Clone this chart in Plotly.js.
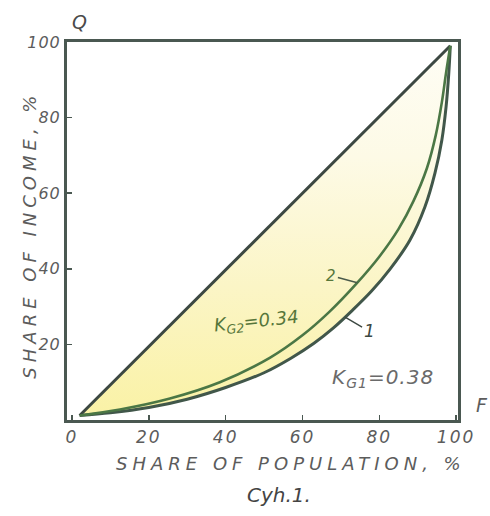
<!DOCTYPE html>
<html>
<head>
<meta charset="utf-8">
<script src="https://cdn.plot.ly/plotly-3.0.1.min.js"></script>
<style>
  html, body { margin: 0; padding: 0; background: #ffffff; }
  #chart { width: 490px; height: 516px; }
</style>
</head>
<body>
<div id="chart"></div>
<script>
// ---- data (share of population %, share of income %) ----
const equalityX = [2, 98.5];
const equalityY = [1.2, 99];

// curve 1 (K_G1 = 0.38)
const curve1X = [2, 10, 20, 30, 40, 50, 57, 63, 68, 73, 78, 82.8, 88, 91.9, 94.5, 96.3, 97.4, 98.1, 98.5];
const curve1Y = [1.2, 1.9, 3.3, 5.5, 8.6, 12.5, 16.35, 20.3, 24.3, 29.0, 34.1, 39.9, 47.6, 56.4, 65.3, 74.1, 82.9, 91.7, 99];

// curve 2 (K_G2 = 0.34)
const curve2X = [2, 12.5, 25.5, 38.5, 51.6, 60, 67, 74, 80, 85, 88.9, 92.4, 94.7, 96.3, 97.4, 98.5];
const curve2Y = [1.2, 2.8, 5.7, 10.0, 16.5, 22.4, 28.6, 36.0, 43.2, 50.5, 57.9, 66.6, 75.3, 84.1, 91.9, 99];

const xTickVals = [0, 20, 40, 60, 80, 100];
const xTickText = ['0', '20', '40', '60', '80', '100'];
const yTickVals = [20, 40, 60, 80, 100];
const yTickText = ['20', '40', '60', '80', '100'];

const xTitle = 'SHARE OF POPULATION, %';
const yTitle = 'SHARE OF INCOME, %';
const giniLabel1 = 'K<sub>G1</sub>=0.38';
const giniLabel2 = 'K<sub>G2</sub>=0.34';

// ---- styles ----
const FONT = 'DejaVu Sans, Liberation Sans, sans-serif';
const inkGray = '#4a5851';
const textGray = '#5c5c5c';

const traces = [
  // invisible equality line: the shaded area fills up to it
  {
    x: equalityX, y: equalityY, type: 'scatter', mode: 'lines',
    line: { width: 0, color: 'rgba(0,0,0,0)' },
    hoverinfo: 'skip', showlegend: false
  },
  // curve 1 with the yellow fill up to the equality line
  {
    x: curve1X, y: curve1Y, type: 'scatter', mode: 'lines',
    fill: 'tonexty',
    line: { color: '#41574a', width: 3, shape: 'spline', smoothing: 1 },
    fillgradient: {
      type: 'vertical',
      colorscale: [[0, '#faf2a6'], [0.35, '#fbf5c6'], [0.7, '#fdfae6'], [1, '#fefdf5']]
    },
    fillcolor: '#fbf5c6',
    showlegend: false, name: '1'
  },
  {
    x: equalityX, y: equalityY, type: 'scatter', mode: 'lines',
    line: { color: '#3c4842', width: 3 },
    showlegend: false, name: 'equality'
  },
  {
    x: curve2X, y: curve2Y, type: 'scatter', mode: 'lines',
    line: { color: '#4b7745', width: 2.6, shape: 'spline', smoothing: 1 },
    showlegend: false, name: '2'
  }
];

const xTickFont = { family: FONT, size: 17, color: textGray, style: 'italic' };
const yTickFont = { family: FONT, size: 16, color: textGray, style: 'italic' };
const titleFont = { family: FONT, size: 18, color: textGray, style: 'italic' };

const layout = {
  width: 490, height: 516,
  margin: { l: 67, r: 32, t: 42, b: 96, pad: 0 },
  paper_bgcolor: '#ffffff', plot_bgcolor: '#ffffff',
  showlegend: false,
  xaxis: {
    range: [-1.3, 100.5],
    tickmode: 'array', tickvals: xTickVals, ticktext: xTickText,
    ticks: 'inside', ticklen: 5, tickwidth: 1.5, tickcolor: inkGray,
    showline: true, mirror: true, linewidth: 3, linecolor: inkGray,
    showgrid: false, zeroline: false, fixedrange: true,
    tickfont: xTickFont
  },
  yaxis: {
    range: [0, 100],
    tickmode: 'array', tickvals: yTickVals, ticktext: yTickText,
    ticks: 'inside', ticklen: 5, tickwidth: 1.5, tickcolor: inkGray,
    showline: true, mirror: true, linewidth: 3, linecolor: inkGray,
    showgrid: false, zeroline: false, fixedrange: true,
    tickfont: yTickFont
  },
  annotations: [
    // axis titles (placed as annotations to match the hand-drawn layout)
    { xref: 'paper', yref: 'paper', x: 0.573, y: 0, yshift: -43, xanchor: 'center', yanchor: 'middle',
      text: xTitle, showarrow: false, font: titleFont },
    { xref: 'paper', yref: 'paper', x: -0.095, y: 0.49, xanchor: 'center', yanchor: 'middle',
      textangle: -90, text: yTitle, showarrow: false, font: titleFont },
    { xref: 'paper', yref: 'paper', x: 0.033, y: 1.0, yshift: 20, xanchor: 'center', yanchor: 'middle',
      text: 'Q', showarrow: false,
      font: { family: FONT, size: 19, color: '#4a4a4a', style: 'italic' } },
    { xref: 'paper', yref: 'paper', x: 1.0, y: 0.0, xshift: 24, yshift: 15, xanchor: 'center', yanchor: 'middle',
      text: 'F', showarrow: false,
      font: { family: FONT, size: 19, color: textGray, style: 'italic' } },
    { xref: 'paper', yref: 'paper', x: 0.542, y: 0.0, yshift: -75, xanchor: 'center', yanchor: 'middle',
      text: 'Cyh.1.', showarrow: false,
      font: { family: FONT, size: 20, color: '#444444', style: 'italic' } },
    { xref: 'x', yref: 'y', x: 48, y: 26, text: giniLabel2, showarrow: false, textangle: -6,
      font: { family: FONT, size: 18, color: '#56763a', style: 'italic' } },
    { xref: 'x', yref: 'y', x: 81, y: 11, text: giniLabel1, showarrow: false,
      font: { family: FONT, size: 20, color: '#6a6a6a', style: 'italic' } },
    { xref: 'x', yref: 'y', x: 74.3, y: 36.3, text: '2', showarrow: true, arrowhead: 0,
      arrowwidth: 1.4, arrowcolor: '#4a5a4a', ax: -26, ay: -7, standoff: 0,
      font: { family: FONT, size: 15, color: '#56763a', style: 'italic' } },
    { xref: 'x', yref: 'y', x: 71.1, y: 27.2, text: '1', showarrow: true, arrowhead: 0,
      arrowwidth: 1.4, arrowcolor: '#3c4842', ax: 24, ay: 14, standoff: 0,
      font: { family: FONT, size: 17, color: '#3c4842', style: 'italic' } }
  ]
};

Plotly.newPlot('chart', traces, layout, { displayModeBar: false, staticPlot: true }).then(function () {
  const ann = document.querySelectorAll('.annotation-text');
  if (ann[0]) ann[0].style.letterSpacing = '5px';
  if (ann[1]) ann[1].style.letterSpacing = '5px';
  if (ann[6]) ann[6].style.letterSpacing = '1px';
  document.querySelectorAll('.xtick text').forEach(function (el) {
    el.style.letterSpacing = '2px';
  });
  document.querySelectorAll('.ytick text').forEach(function (el) {
    el.style.letterSpacing = '1px';
  });
  // drop empty placeholder text nodes left by the library
  document.querySelectorAll('#chart svg text').forEach(function (el) {
    if (!el.textContent || !el.textContent.trim()) el.parentNode.removeChild(el);
  });
});
</script>
</body>
</html>
